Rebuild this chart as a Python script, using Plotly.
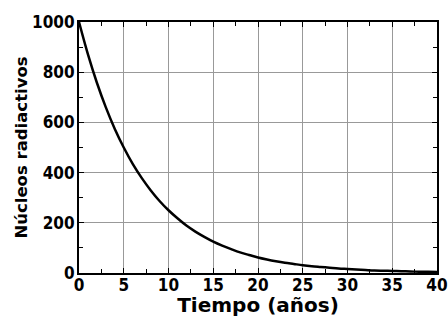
import plotly.graph_objects as go

tiempo = list(range(0, 41))
nucleos = [1000, 871, 758, 660, 574, 500, 435, 379, 330, 287,
           250, 218, 189, 165, 144, 125, 109, 95, 82, 72,
           62, 54, 47, 41, 36, 31, 27, 24, 21, 18,
           16, 14, 12, 10, 9, 8, 7, 6, 5, 4.5, 4]
x_ticks = [0, 5, 10, 15, 20, 25, 30, 35, 40]
y_ticks = [0, 200, 400, 600, 800, 1000]

cond = "DejaVu Sans Condensed, DejaVu Sans"
wide = "DejaVu Sans"
fig = go.Figure(go.Scatter(x=tiempo, y=nucleos, mode="lines",
                           line=dict(color="black", width=2.5, shape="spline"),
                           showlegend=False))

fig.update_layout(
    width=448, height=317,
    margin=dict(l=79, r=11, t=22, b=44),
    paper_bgcolor="white", plot_bgcolor="white",
    font=dict(family=wide, color="black"),
)
fig.update_xaxes(
    range=[0, 40], tickvals=x_ticks, ticktext=[str(v) for v in x_ticks],
    showgrid=True, gridcolor="#999999", gridwidth=1,
    showline=True, linecolor="black", linewidth=2, mirror="ticks",
    ticks="inside", ticklen=5, tickcolor="black",
    minor=dict(dtick=2.5, ticks="inside", ticklen=4, tickcolor="black", showgrid=False),
    tickfont=dict(family=cond, size=17, color="black", weight="bold"),
    title=dict(text="Tiempo (años)", font=dict(family=wide, size=20, weight="bold"), standoff=4),
    zeroline=False, ticklabelstandoff=-4, automargin=False, ticklabeloverflow="allow",
)
fig.update_yaxes(
    range=[0, 1000], tickvals=y_ticks, ticktext=[str(v) for v in y_ticks],
    showgrid=True, gridcolor="#999999", gridwidth=1,
    showline=True, linecolor="black", linewidth=2, mirror="ticks",
    ticks="inside", ticklen=5, tickcolor="black",
    minor=dict(dtick=100, ticks="inside", ticklen=4, tickcolor="black", showgrid=False),
    tickfont=dict(family=cond, size=17, color="black", weight="bold"),
    title=dict(text="Núcleos radiactivos", font=dict(family=wide, size=16.5, weight="bold"), standoff=0),
    zeroline=False, ticklabelstandoff=-1, automargin=False, ticklabeloverflow="allow",
)
fig.write_html("out.html", config={"displayModeBar": False},
               post_script="document.body.style.margin='0';document.body.style.overflow='hidden';")
